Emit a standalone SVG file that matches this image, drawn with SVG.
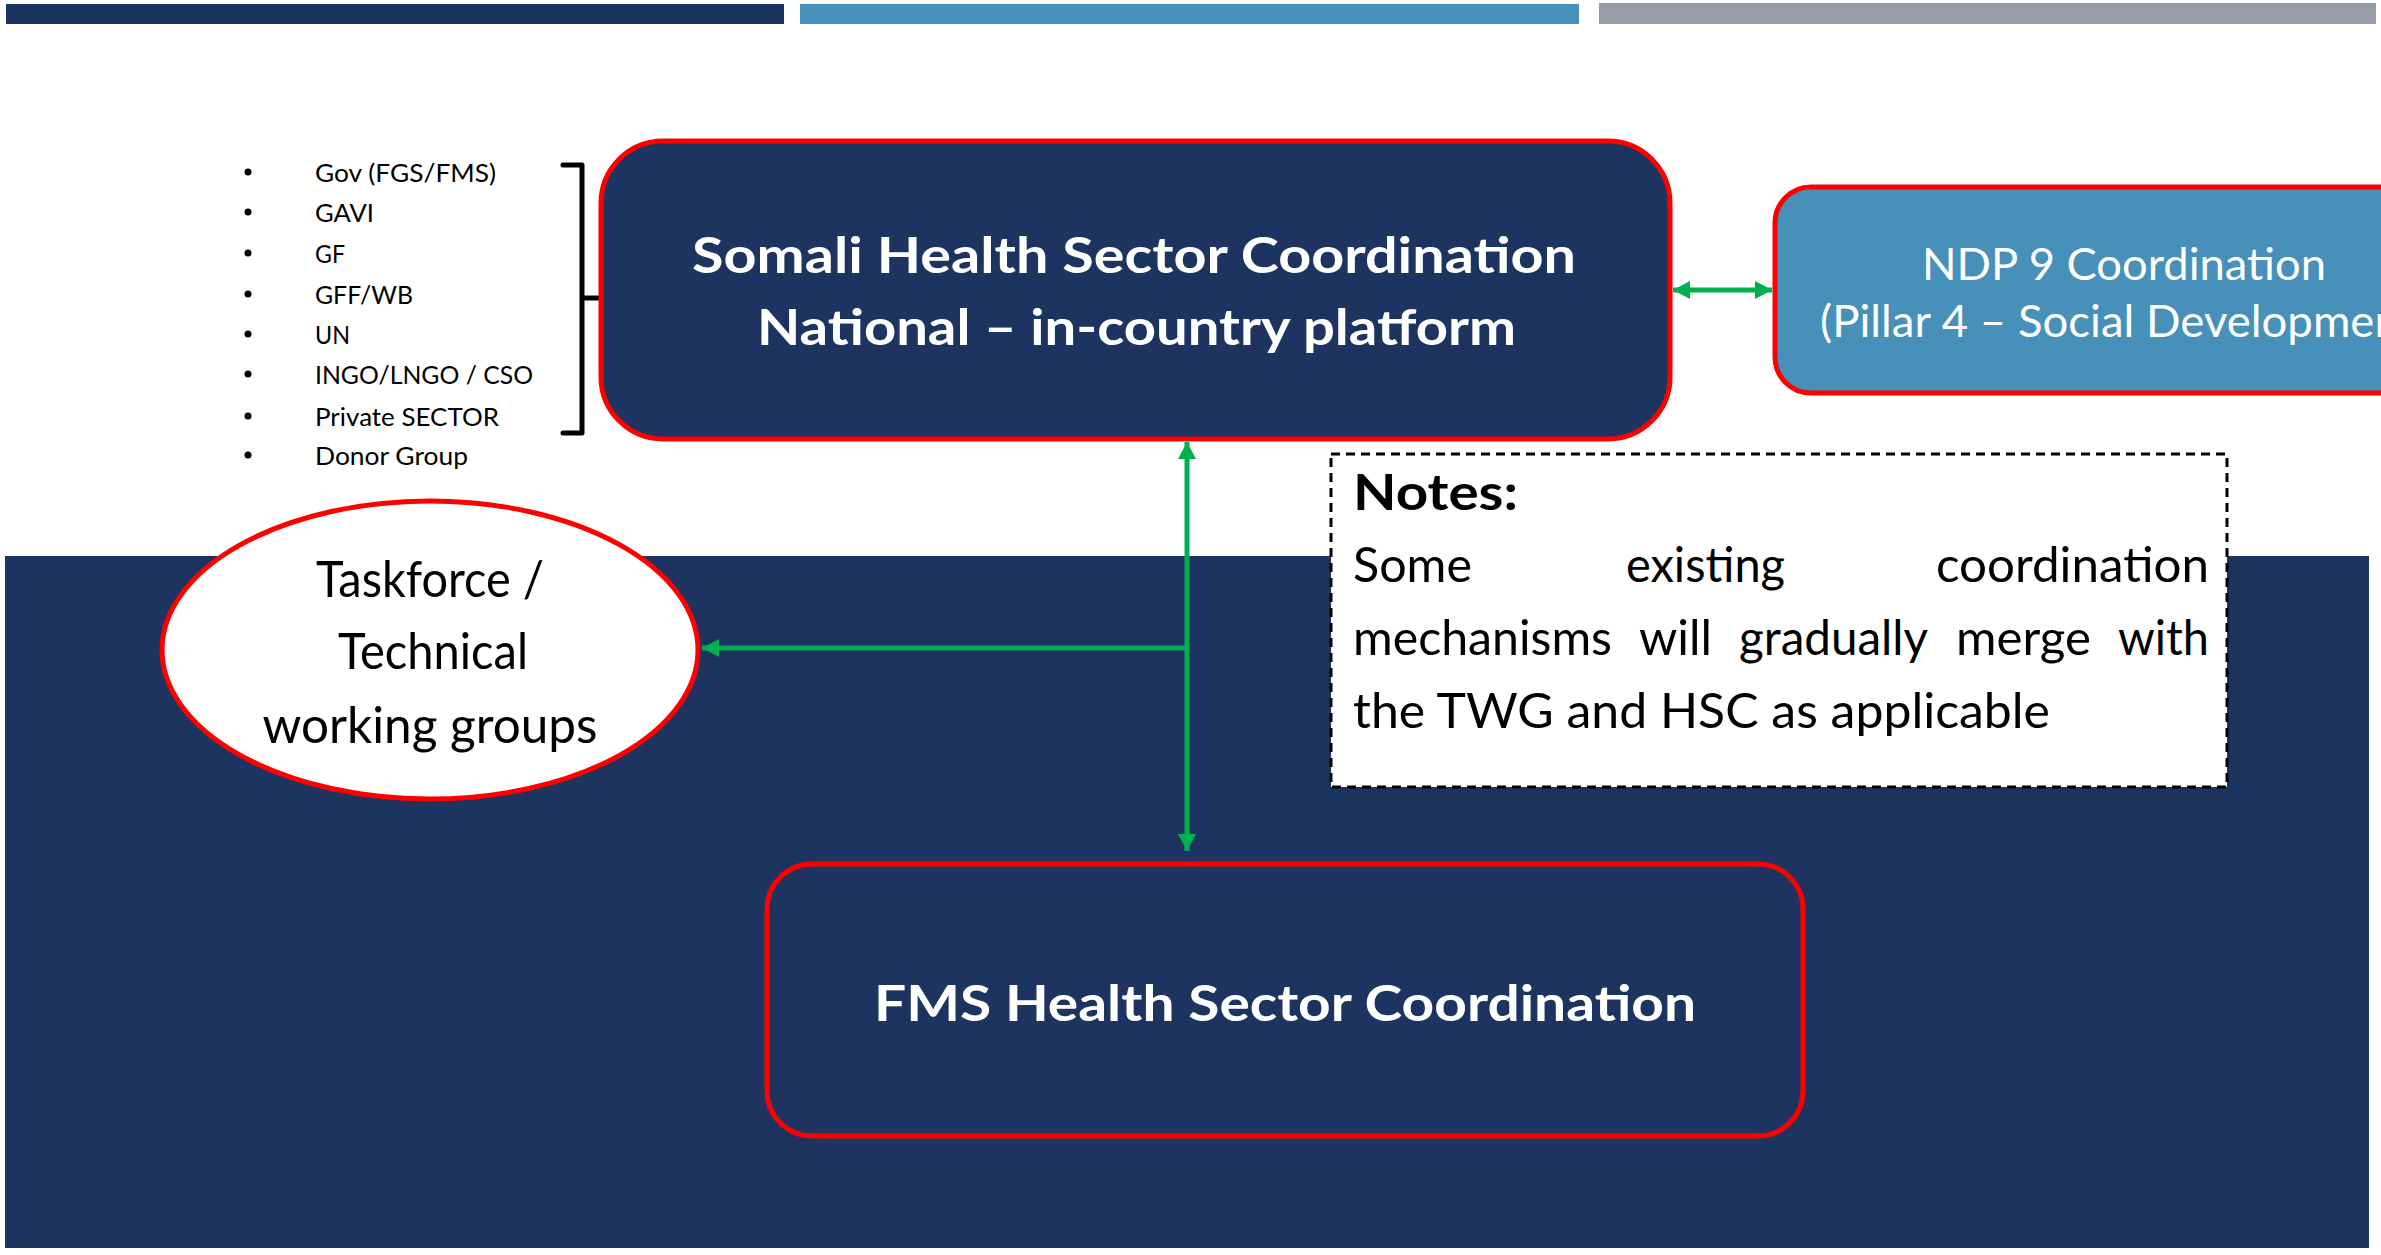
<svg xmlns="http://www.w3.org/2000/svg" width="2381" height="1255" viewBox="0 0 2381 1255">
<defs>
<style>
.navy{fill:#1D3461}
.box{stroke:#FF0000;stroke-width:5}
.wb{font-family:Lato,"Liberation Sans",sans-serif;font-weight:bold;fill:#FFFFFF}
.wr{font-family:Lato,"Liberation Sans",sans-serif;fill:#FFFFFF}
.k{font-family:Lato,"Liberation Sans",sans-serif;fill:#000000}
.kb{font-family:Lato,"Liberation Sans",sans-serif;font-weight:bold;fill:#000000}
.list{font-size:25px}
.conn{stroke:#00B050;stroke-width:5;fill:none}
</style>
<marker id="ah" markerUnits="userSpaceOnUse" markerWidth="18" markerHeight="20" refX="17" refY="10" orient="auto-start-reverse" viewBox="0 0 18 20">
<path d="M0,1 L17,10 L0,19 z" fill="#00B050"/>
</marker>
</defs>
<rect width="2381" height="1255" fill="#FFFFFF"/>
<g id="top-bars">
<rect x="6" y="4" width="778" height="20" fill="#1A325E"/>
<rect x="800" y="4" width="779" height="20" fill="#4790B9"/>
<rect x="1599" y="3" width="777" height="21" fill="#979DA6"/>
</g>
<rect id="background" x="5" y="556" width="2364" height="692" class="navy"/>

<g id="member-list">
<circle cx="248" cy="172" r="3.5" fill="#000"/>
<circle cx="248" cy="212" r="3.5" fill="#000"/>
<circle cx="248" cy="253" r="3.5" fill="#000"/>
<circle cx="248" cy="294" r="3.5" fill="#000"/>
<circle cx="248" cy="334" r="3.5" fill="#000"/>
<circle cx="248" cy="374" r="3.5" fill="#000"/>
<circle cx="248" cy="416" r="3.5" fill="#000"/>
<circle cx="248" cy="455" r="3.5" fill="#000"/>
<text class="k list" x="315" y="182" textLength="181" lengthAdjust="spacingAndGlyphs">Gov (FGS/FMS)</text>
<text class="k list" x="315" y="222" textLength="59" lengthAdjust="spacingAndGlyphs">GAVI</text>
<text class="k list" x="315" y="263" textLength="30" lengthAdjust="spacingAndGlyphs">GF</text>
<text class="k list" x="315" y="304" textLength="98" lengthAdjust="spacingAndGlyphs">GFF/WB</text>
<text class="k list" x="315" y="344" textLength="35" lengthAdjust="spacingAndGlyphs">UN</text>
<text class="k list" x="315" y="384" textLength="218" lengthAdjust="spacingAndGlyphs">INGO/LNGO / CSO</text>
<text class="k list" x="315" y="426" textLength="184" lengthAdjust="spacingAndGlyphs">Private SECTOR</text>
<text class="k list" x="315" y="465" textLength="153" lengthAdjust="spacingAndGlyphs">Donor Group</text>
<path d="M563,165 H582 V433 H563 M582,298 H600" fill="none" stroke="#000" stroke-width="5" stroke-linejoin="round" stroke-linecap="round"/>
</g>

<g id="national-platform">
<rect x="601" y="141" width="1069" height="298" rx="62" ry="62" class="navy box"/>
<text class="wb" x="692" y="273" font-size="50" textLength="884" lengthAdjust="spacingAndGlyphs">Somali Health Sector Coordination</text>
<text class="wb" x="757" y="345" font-size="50" textLength="759" lengthAdjust="spacingAndGlyphs">National – in-country platform</text>
</g>

<g id="ndp9">
<rect x="1775" y="187" width="660" height="206" rx="36" ry="36" fill="#4790B9" class="box"/>
<text class="wr" x="1922" y="280" font-size="45" textLength="404" lengthAdjust="spacingAndGlyphs">NDP 9 Coordination</text>
<text class="wr" x="1820" y="337" font-size="45" textLength="608" lengthAdjust="spacingAndGlyphs">(Pillar 4 – Social Development)</text>
</g>

<g id="fms">
<rect x="767" y="864" width="1036" height="272" rx="45" ry="45" class="navy box"/>
<text class="wb" x="874" y="1021" font-size="50" textLength="822" lengthAdjust="spacingAndGlyphs">FMS Health Sector Coordination</text>
</g>

<g id="connectors">
<line x1="1673" y1="290" x2="1772" y2="290" class="conn" marker-start="url(#ah)" marker-end="url(#ah)"/>
<line x1="1187" y1="442" x2="1187" y2="851" class="conn" marker-start="url(#ah)" marker-end="url(#ah)"/>
<line x1="1189" y1="648" x2="702" y2="648" class="conn" marker-end="url(#ah)"/>
</g>

<g id="taskforce">
<ellipse cx="430" cy="650" rx="268" ry="149" fill="#FFFFFF" class="box"/>
<text class="k" x="430" y="597" font-size="50" text-anchor="middle" textLength="228" lengthAdjust="spacingAndGlyphs">Taskforce /</text>
<text class="k" x="433" y="669" font-size="50" text-anchor="middle" textLength="190" lengthAdjust="spacingAndGlyphs">Technical</text>
<text class="k" x="430" y="743" font-size="50" text-anchor="middle" textLength="335" lengthAdjust="spacingAndGlyphs">working groups</text>
</g>

<g id="notes">
<rect x="1331" y="454" width="896" height="333" fill="#FFFFFF" stroke="#000" stroke-width="3" stroke-dasharray="9,6"/>
<text class="kb" x="1353" y="510" font-size="50" textLength="165" lengthAdjust="spacingAndGlyphs">Notes:</text>
<text class="k" x="1353" y="582" font-size="48" textLength="119" lengthAdjust="spacingAndGlyphs">Some</text>
<text class="k" x="1626" y="582" font-size="48" textLength="159" lengthAdjust="spacingAndGlyphs">existing</text>
<text class="k" x="1936" y="582" font-size="48" textLength="273" lengthAdjust="spacingAndGlyphs">coordination</text>
<text class="k" x="1353" y="655" font-size="48" textLength="259" lengthAdjust="spacingAndGlyphs">mechanisms</text>
<text class="k" x="1639" y="655" font-size="48" textLength="73" lengthAdjust="spacingAndGlyphs">will</text>
<text class="k" x="1739" y="655" font-size="48" textLength="189" lengthAdjust="spacingAndGlyphs">gradually</text>
<text class="k" x="1956" y="655" font-size="48" textLength="135" lengthAdjust="spacingAndGlyphs">merge</text>
<text class="k" x="2118" y="655" font-size="48" textLength="91" lengthAdjust="spacingAndGlyphs">with</text>
<text class="k" x="1353" y="728" font-size="48" textLength="697" lengthAdjust="spacingAndGlyphs">the TWG and HSC as applicable</text>
</g>
</svg>
